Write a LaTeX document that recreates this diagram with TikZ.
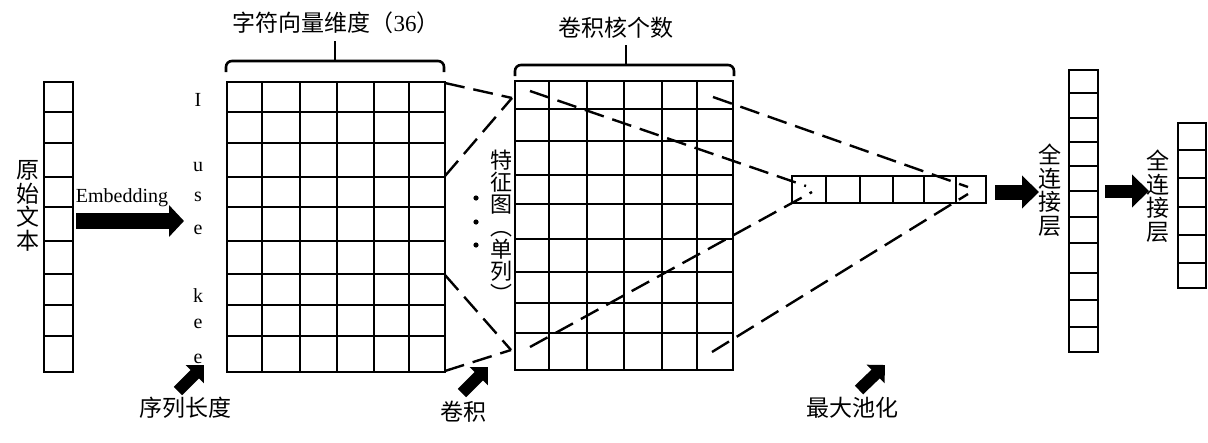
\documentclass[tikz,border=0pt]{standalone}
\usepackage{fontspec}
\setmainfont{Liberation Serif}
\newfontfamily\cjk{Noto Sans CJK SC}
\usepackage{tikz}
\usetikzlibrary{calc, arrows.meta}

\tikzset{
  gridline/.style={line width=2.6pt},
  dashline/.style={line width=2.4pt, dash pattern=on 20pt off 9pt},
  blockarrow/.style={line width=16pt, -{Triangle[length=15pt 0 0, width=31pt 0 0]}},
  fcarrow/.style={line width=15pt, -{Triangle[length=17pt 0 0, width=32pt 0 0]}},
  tiparrow/.style={line width=12pt, -{Triangle[length=13pt 0 0, width=25pt 0 0]}},
  cjklabel/.style={font=\cjk\fontsize{23}{23.5}\selectfont, inner sep=0pt, align=center},
  letter/.style={font=\fontsize{20}{22}\selectfont, inner sep=0pt}
}

\begin{document}
\begin{tikzpicture}[x=1pt, y=-1pt]
\useasboundingbox (0,0) rectangle (1208,442);

% raw text column
\draw[gridline] (44,82) rectangle (73,372);
\foreach \y in {112,143,177,207,241,274,305,336}{
  \draw[gridline] (44,\y) -- (73,\y);
}
\node[cjklabel] (raw) at (28,206) {原\\始\\文\\本};

% embedding arrow and the sequence letters
\coordinate (embS) at (76,221);
\coordinate (embE) at (184,221);
\draw[blockarrow] (embS) -- (embE);
\node[letter, anchor=base] (emb) at (122,202) {Embedding};
\node[letter] (c1) at (198,100) {I};
\node[letter] (c2) at (198,167) {u};
\node[letter] (c3) at (198,197) {s};
\node[letter] (c4) at (198,230) {e};
\node[letter] (c5) at (198,296) {k};
\node[letter] (c6) at (198,324) {e};
\node[letter] (c7) at (198,359) {e};

% embedding matrix: 6 x 9
\draw[gridline] (227,82) rectangle (445,372);
\foreach \x in {262,300,337,374,409}{
  \draw[gridline] (\x,82) -- (\x,372);
}
\foreach \y in {112,143,177,207,241,274,305,336}{
  \draw[gridline] (227,\y) -- (445,\y);
}
\draw[gridline, rounded corners=6pt] (226,72) -- (226,61) -- (444,61) -- (444,72);
\draw[gridline] (335,61) -- (335,41);
\node[cjklabel] (dim) at (336,23) {字符向量维度（{\rmfamily 36}）};

% feature maps: 6 x 9
\draw[gridline] (515,81) rectangle (733,370);
\foreach \x in {549,587,624,662,697}{
  \draw[gridline] (\x,81) -- (\x,370);
}
\foreach \y in {109,141,175,204,239,272,303,333}{
  \draw[gridline] (515,\y) -- (733,\y);
}
\draw[gridline, rounded corners=6pt] (515,76) -- (515,65) -- (734,65) -- (734,76);
\draw[gridline] (626,65) -- (626,45);
\node[cjklabel] (kern) at (616,28) {卷积核个数};
\node[cjklabel, font=\cjk\fontsize{22}{22.3}\selectfont] (fmap) at (501,226) {特\\征\\图\\︵\\单\\列\\︶};
\foreach \y in {198,222,245}{
  \fill (476,\y) circle (2.6pt);
}

% convolution windows
\coordinate (a1) at (445,83);
\coordinate (a2) at (445,176);
\coordinate (p1) at (512,98);
\coordinate (b1) at (445,275);
\coordinate (b2) at (445,371);
\coordinate (p2) at (511,350);
\draw[dashline] (a1) -- (p1);
\draw[dashline] (a2) -- (p1);
\draw[dashline] (b1) -- (p2);
\draw[dashline] (b2) -- (p2);

% pooled vector
\draw[gridline] (792,176) rectangle (986,203);
\foreach \x in {826,860,893,924,956}{
  \draw[gridline] (\x,176) -- (\x,203);
}

% max pooling lines
\coordinate (m1) at (530,91);
\coordinate (m2) at (530,347);
\coordinate (m3) at (713,97);
\coordinate (m4) at (712,352);
\coordinate (q1) at (806,186);
\coordinate (q2) at (812,192);
\coordinate (q3) at (968,187);
\coordinate (q4) at (968,194);
\draw[dashline] (m1) -- (q1);
\draw[dashline] (m2) -- (q2);
\draw[dashline] (m3) -- (q3);
\draw[dashline] (m4) -- (q4);

% fully connected layers
\coordinate (fcS) at (995,192);
\coordinate (fcE) at (1039,192);
\draw[fcarrow] (fcS) -- (fcE);
\node[cjklabel] (fc1) at (1050,190) {全\\连\\接\\层};
\draw[gridline] (1069,70) rectangle (1098,352);
\foreach \y in {93,118,142,166,191,217,243,273,300,327}{
  \draw[gridline] (1069,\y) -- (1098,\y);
}
\coordinate (fc2S) at (1105,191);
\coordinate (fc2E) at (1149,191);
\draw[fcarrow, line width=13pt] (fc2S) -- (fc2E);
\node[cjklabel] (fc2) at (1158,196) {全\\连\\接\\层};
\draw[gridline] (1178,123) rectangle (1206,288);
\foreach \y in {150,178,207,235,263}{
  \draw[gridline] (1178,\y) -- (1206,\y);
}

% bottom labels
\node[cjklabel] (seq) at (185,408) {序列长度};
\node[cjklabel] (conv) at (463,412) {卷积};
\node[cjklabel] (pool) at (852,408) {最大池化};
\coordinate (seqE) at (204,365);
\coordinate (convE) at (488,367);
\coordinate (poolE) at (885,365);
\draw[tiparrow] (178,391) -- (seqE);
\draw[tiparrow] (462,393) -- (convE);
\draw[tiparrow] (859,390) -- (poolE);
\end{tikzpicture}
\end{document}
